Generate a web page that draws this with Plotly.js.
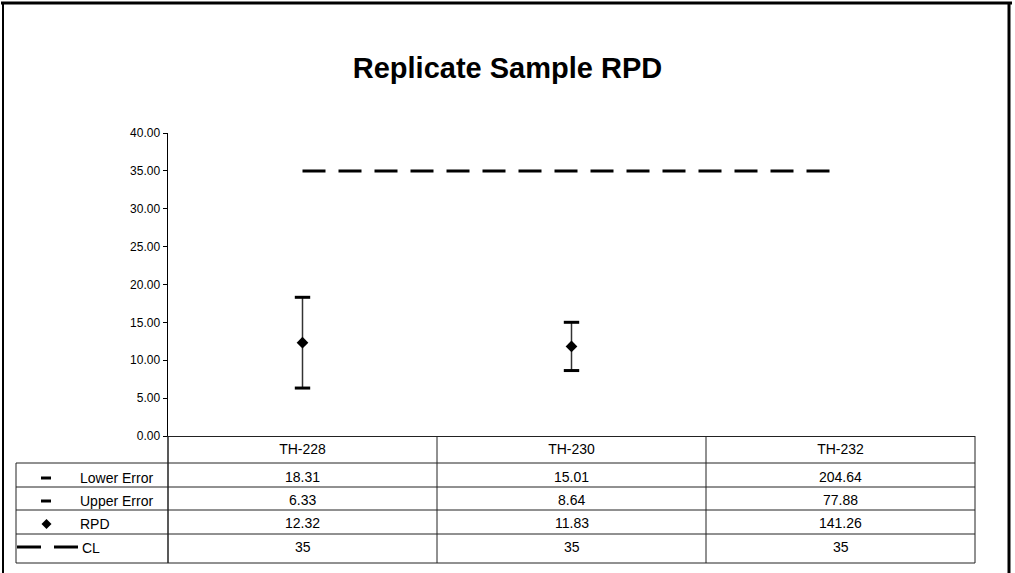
<!DOCTYPE html>
<html>
<head>
<meta charset="utf-8">
<script src="https://cdn.plot.ly/plotly-3.0.1.min.js"></script>
<style>html,body{margin:0;padding:0;background:#fff;}#chart{width:1015px;height:573px;}</style>
</head>
<body>
<div id="chart"></div>
<script>
// ---- data ----
const categories = ['TH-228', 'TH-230', 'TH-232'];
const lowerError = [18.31, 15.01, 204.64];
const upperError = [6.33, 8.64, 77.88];
const rpd = [12.32, 11.83, 141.26];
const cl = [35, 35, 35];
const seriesNames = ['Lower Error', 'Upper Error', 'RPD', 'CL'];
const yTickVals = [0, 5, 10, 15, 20, 25, 30, 35, 40];

// ---- geometry helpers (pixel -> paper) ----
const W = 1015, H = 573, L = 168, R = 975, T = 133, B = 436;
const X = px => (px - L) / (R - L);
const Y = py => (B - py) / (B - T);
const FONT = 'Liberation Sans, Arial, sans-serif';
const LINEC = '#222';

const traces = [
  {
    name: 'CL', x: categories, y: cl, type: 'scatter', mode: 'lines',
    line: {color: '#000', width: 3, dash: '23px,13px'}, hoverinfo: 'skip'
  },
  {
    name: 'RPD', x: categories, y: rpd, type: 'scatter', mode: 'markers',
    marker: {symbol: 'diamond', size: 9, color: '#000'},
    error_y: {
      type: 'data', symmetric: false,
      array: lowerError.map((v, i) => v - rpd[i]),
      arrayminus: rpd.map((v, i) => v - upperError[i]),
      color: '#333', thickness: 1.5, width: 0
    }
  },
  {
    name: 'Lower Error', x: categories, y: lowerError, type: 'scatter', mode: 'markers',
    marker: {symbol: 'line-ew', size: 11, line: {color: '#000', width: 3}}
  },
  {
    name: 'Upper Error', x: categories, y: upperError, type: 'scatter', mode: 'markers',
    marker: {symbol: 'line-ew', size: 11, line: {color: '#000', width: 3}}
  }
];

// ---- table (data table under the chart) ----
const rowLines = [463, 487, 510, 534, 563];
const rowText = [478, 501, 524, 548];
const shapes = [];
rowLines.forEach(py => shapes.push({type: 'line', xref: 'paper', yref: 'paper',
  x0: X(16), x1: X(975), y0: Y(py), y1: Y(py), line: {color: LINEC, width: 1}}));
shapes.push({type: 'line', xref: 'paper', yref: 'paper', x0: X(16), x1: X(16), y0: Y(463), y1: Y(563), line: {color: LINEC, width: 1}});
[168, 437, 706, 975].forEach(px => shapes.push({type: 'line', xref: 'paper', yref: 'paper',
  x0: X(px), x1: X(px), y0: Y(436), y1: Y(563), line: {color: LINEC, width: px === 168 ? 1.5 : 1}}));

// legend keys inside the table
shapes.push({type: 'line', xref: 'paper', yref: 'paper', x0: X(41), x1: X(51), y0: Y(rowText[0]), y1: Y(rowText[0]), line: {color: '#000', width: 3}});
shapes.push({type: 'line', xref: 'paper', yref: 'paper', x0: X(41), x1: X(51), y0: Y(rowText[1]), y1: Y(rowText[1]), line: {color: '#000', width: 3}});
shapes.push({type: 'path', xref: 'paper', yref: 'paper',
  path: `M ${X(41.5)},${Y(rowText[2])} L ${X(46.5)},${Y(rowText[2] - 5)} L ${X(51.5)},${Y(rowText[2])} L ${X(46.5)},${Y(rowText[2] + 5)} Z`,
  fillcolor: '#000', line: {color: '#000', width: 0}});
shapes.push({type: 'line', xref: 'paper', yref: 'paper', x0: X(17), x1: X(41), y0: Y(rowText[3] - 1), y1: Y(rowText[3] - 1), line: {color: '#000', width: 3}});
shapes.push({type: 'line', xref: 'paper', yref: 'paper', x0: X(54), x1: X(78), y0: Y(rowText[3] - 1), y1: Y(rowText[3] - 1), line: {color: '#000', width: 3}});

// outer frame
shapes.push({type: 'line', xref: 'paper', yref: 'paper', x0: X(1), x1: X(1012), y0: Y(3), y1: Y(3), line: {color: '#000', width: 3}});
shapes.push({type: 'line', xref: 'paper', yref: 'paper', x0: X(3), x1: X(3), y0: Y(2), y1: Y(580), line: {color: '#000', width: 2}});
shapes.push({type: 'line', xref: 'paper', yref: 'paper', x0: X(1009), x1: X(1009), y0: Y(2), y1: Y(580), line: {color: '#000', width: 3}});

const annotations = [];
const tableFont = {family: FONT, size: 14, color: '#000'};
seriesNames.forEach((n, r) => annotations.push({
  xref: 'paper', yref: 'paper', x: X(r === 3 ? 80 : 78), y: Y(rowText[r]),
  xanchor: 'left', yanchor: 'middle', text: n, showarrow: false, font: tableFont
}));
const rows = [lowerError, upperError, rpd, cl];
rows.forEach((arr, r) => arr.forEach((v, i) => annotations.push({
  xref: 'x', yref: 'paper', x: categories[i], y: Y(rowText[r] - 1),
  xanchor: 'center', yanchor: 'middle', text: String(v), showarrow: false, font: tableFont
})));

const layout = {
  width: W, height: H,
  margin: {l: L, r: W - R, t: T, b: H - B, pad: 0},
  paper_bgcolor: '#fff', plot_bgcolor: '#fff',
  showlegend: false,
  title: {
    text: '<b>Replicate Sample RPD</b>',
    font: {family: FONT, size: 29, color: '#000'},
    x: 0.5, xref: 'container', xanchor: 'center',
    y: 1 - 68 / H, yref: 'container', yanchor: 'middle'
  },
  xaxis: {
    type: 'category', categoryarray: categories, range: [-0.5, 2.5],
    showgrid: false, zeroline: false, showline: true, linecolor: LINEC, linewidth: 1,
    ticks: '', tickfont: {family: FONT, size: 14, color: '#000'}, fixedrange: true
  },
  yaxis: {
    range: [0, 40], tickvals: yTickVals, tickformat: '.2f',
    showgrid: false, zeroline: false, showline: true, linecolor: '#000', linewidth: 1.5,
    ticks: 'outside', ticklen: 4, tickcolor: '#000', tickwidth: 1,
    tickfont: {family: FONT, size: 12, color: '#000'}, fixedrange: true
  },
  shapes: shapes,
  annotations: annotations
};

Plotly.newPlot('chart', traces, layout, {displayModeBar: false, staticPlot: true});
</script>
</body>
</html>
